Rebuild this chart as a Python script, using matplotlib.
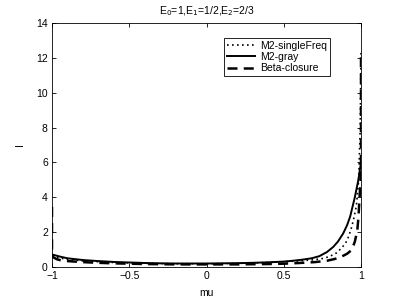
import matplotlib
matplotlib.use("Agg")
import matplotlib.pyplot as plt

# values
mu_single = [-1.0, -0.95, -0.9, -0.8, -0.7, -0.6, -0.5, -0.4, -0.3, -0.2, -0.1, 0.0,
             0.1, 0.2, 0.3, 0.4, 0.5, 0.6, 0.7, 0.76, 0.8, 0.84, 0.87, 0.9, 0.92,
             0.94, 0.955, 0.97, 0.985, 0.995, 1.0]
I_single = [0.62, 0.52, 0.44, 0.35, 0.3, 0.26, 0.23, 0.21, 0.2, 0.19, 0.19, 0.19,
            0.2, 0.21, 0.23, 0.26, 0.3, 0.35, 0.42, 0.5, 0.62, 0.8, 1.05, 1.36, 1.75,
            2.3, 2.85, 3.5, 5.0, 8.0, 12.3]

mu_gray = [-1.0, -0.95, -0.9, -0.8, -0.7, -0.6, -0.5, -0.4, -0.3, -0.2, -0.1, 0.0,
           0.1, 0.2, 0.3, 0.4, 0.5, 0.56, 0.62, 0.68, 0.73, 0.78, 0.82, 0.85, 0.885,
           0.91, 0.93, 0.96, 0.983, 1.0]
I_gray = [0.72, 0.6, 0.5, 0.4, 0.34, 0.29, 0.26, 0.23, 0.21, 0.2, 0.2, 0.2,
          0.21, 0.22, 0.24, 0.27, 0.31, 0.36, 0.42, 0.5, 0.62, 0.86, 1.15, 1.45, 1.93,
          2.4, 2.9, 4.0, 5.0, 6.0]

mu_beta = [-1.0, -1.0, -0.99, -0.97, -0.95, -0.9, -0.8, -0.7, -0.6, -0.5, -0.4, -0.3,
           -0.2, -0.1, 0.0, 0.1, 0.2, 0.3, 0.4, 0.5, 0.6, 0.7, 0.78, 0.83, 0.875,
           0.91, 0.94, 0.96, 0.976, 0.983, 0.989, 1.0, 1.0]
I_beta = [3.45, 0.7, 0.55, 0.45, 0.4, 0.34, 0.28, 0.24, 0.21, 0.19, 0.17, 0.16,
          0.15, 0.15, 0.15, 0.15, 0.15, 0.16, 0.17, 0.19, 0.23, 0.28, 0.36, 0.46, 0.6,
          0.76, 0.98, 1.45, 2.1, 2.8, 3.7, 5.5, 12.3]

x_ticks = [-1, -0.5, 0, 0.5, 1]
x_labels = ["\u22121", "\u22120.5", "0", "0.5", "1"]
y_ticks = [0, 2, 4, 6, 8, 10, 12, 14]

plt.rcParams['font.family'] = ['Liberation Sans', 'DejaVu Sans']
plt.rcParams['font.size'] = 7.5

fig = plt.figure(figsize=(3.99, 3.0), dpi=100)
ax = fig.add_axes([52 / 399, 33 / 300, 309 / 399, 244 / 300])

ax.plot(mu_single, I_single, color='black', linestyle=(0, (1, 2)), linewidth=1.2, label='M2-singleFreq')
ax.plot(mu_gray, I_gray, color='black', linestyle='-', linewidth=1.4, label='M2-gray')
ax.plot(mu_beta, I_beta, color='black', linestyle=(0, (4, 2.5)), linewidth=1.8, label='Beta-closure')

ax.set_xlim(-1, 1)
ax.set_ylim(0, 14)
ax.set_xticks(x_ticks)
ax.set_xticklabels(x_labels)
ax.set_yticks(y_ticks)
ax.tick_params(direction='in', length=3, width=0.6, top=True, right=True, pad=3)
for s in ax.spines.values():
    s.set_linewidth(0.6)

ax.set_title(r'E$_0$=1,E$_1$=1/2,E$_2$=2/3', fontsize=7.5, pad=6)
ax.set_xlabel('mu', labelpad=5)
ax.set_ylabel('I', labelpad=8)

leg = ax.legend(loc='upper right', bbox_to_anchor=(0.9, 0.94),
                fancybox=False, framealpha=1, edgecolor='black', handlelength=2.7,
                borderpad=0.3, labelspacing=0.12, handletextpad=0.5, borderaxespad=0)
leg.get_frame().set_linewidth(0.6)

fig.savefig('out.png', dpi=100)
